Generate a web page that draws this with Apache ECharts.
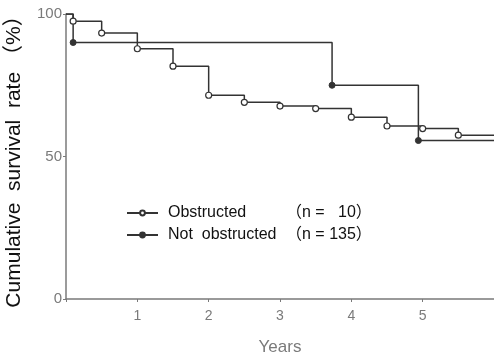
<!DOCTYPE html>
<html>
<head>
<meta charset="utf-8">
<script src="https://cdn.jsdelivr.net/npm/echarts@6/dist/echarts.min.js"></script>
<style>
  html, body { margin: 0; padding: 0; background: #fff; }
  #main { width: 494px; height: 355px; }
</style>
</head>
<body>
<div id="main"></div>
<script>
// survival curves (years, %)
const obstructedYears = [0, 0.1, 0.5, 1.0, 1.5, 2.0, 2.5, 3.0, 3.5, 4.0, 4.5, 5.0, 5.5, 6.0];
const obstructedRate = [100, 97.5, 93.3, 87.8, 81.7, 71.5, 69.0, 67.7, 66.8, 63.8, 60.7, 59.8, 57.5, 57.5];
const notObstructedYears = [0, 0.1, 3.73, 4.94, 6.0];
const notObstructedRate = [100, 90, 75, 55.6, 55.6];
const seriesNames = ['Obstructed', 'Not  obstructed'];
const seriesCounts = ['（n =   10）', '（n = 135）'];
const xTickLabels = ['', '1', '2', '3', '4', '5', ''];

const FONT = '"Liberation Sans", Arial, "Noto Sans CJK JP", sans-serif';
const INK = '#333';
const AXIS = '#7a7a7a';

// first and last points are only the ends of the step line, no marker
function toPoints(xs, ys) {
    return xs.map(function (x, i) {
        let item = { value: [x, ys[i]] };
        if (i === 0 || i === xs.length - 1) item.symbol = 'none';
        return item;
    });
}

let myChart = echarts.init(document.getElementById('main'));
let option = {
    animation: false,
    textStyle: { fontFamily: FONT },
    grid: { left: 66, right: 0, top: 14, bottom: 56, outerBoundsMode: 'none', containLabel: false },
    legend: {
        orient: 'vertical',
        left: 121,
        top: 200,
        itemWidth: 31,
        itemHeight: 6,
        itemGap: 6,
        data: seriesNames,
        formatter: function (name) {
            return '{a|' + name + '}{b|' + seriesCounts[seriesNames.indexOf(name)] + '}';
        },
        textStyle: {
            color: '#111',
            fontSize: 16,
            rich: {
                a: { width: 118, fontSize: 16, color: '#111', padding: [0, 0, 0, 5], fontFamily: FONT },
                b: { fontSize: 16, color: '#111', fontFamily: FONT }
            }
        }
    },
    xAxis: {
        type: 'value',
        min: 0,
        max: 6,
        interval: 1,
        name: 'Years',
        nameLocation: 'middle',
        nameGap: 40,
        nameTextStyle: { color: AXIS, fontSize: 17 },
        axisLine: { lineStyle: { color: AXIS, width: 1.5 } },
        axisTick: { length: 3, lineStyle: { color: AXIS } },
        axisLabel: {
            color: AXIS,
            fontSize: 14,
            margin: 10,
            formatter: function (v) { return xTickLabels[v]; }
        },
        splitLine: { show: false }
    },
    yAxis: {
        type: 'value',
        min: 0,
        max: 100,
        interval: 50,
        name: 'Cumulative  survival  rate （%）',
        nameLocation: 'middle',
        nameRotate: 90,
        nameGap: 41,
        nameTextStyle: { color: '#111', fontSize: 21 },
        axisLine: { lineStyle: { color: AXIS, width: 1.5 } },
        axisTick: { length: 3, lineStyle: { color: AXIS } },
        axisLabel: { color: AXIS, fontSize: 15, margin: 4 },
        splitLine: { show: false }
    },
    series: [
        {
            name: seriesNames[0],
            type: 'line',
            step: 'end',
            data: toPoints(obstructedYears, obstructedRate),
            symbol: 'circle',
            symbolSize: 6,
            itemStyle: { color: '#fff', borderColor: INK, borderWidth: 1.2 },
            lineStyle: { color: INK, width: 1.5 },
            z: 3
        },
        {
            name: seriesNames[1],
            type: 'line',
            step: 'end',
            data: toPoints(notObstructedYears, notObstructedRate),
            symbol: 'circle',
            symbolSize: 6,
            itemStyle: { color: INK, borderColor: INK, borderWidth: 1 },
            lineStyle: { color: INK, width: 1.5 },
            z: 2
        }
    ]
};
myChart.setOption(option);

window.addEventListener('resize', function () {
    myChart.resize();
}, false);
</script>
</body>
</html>
